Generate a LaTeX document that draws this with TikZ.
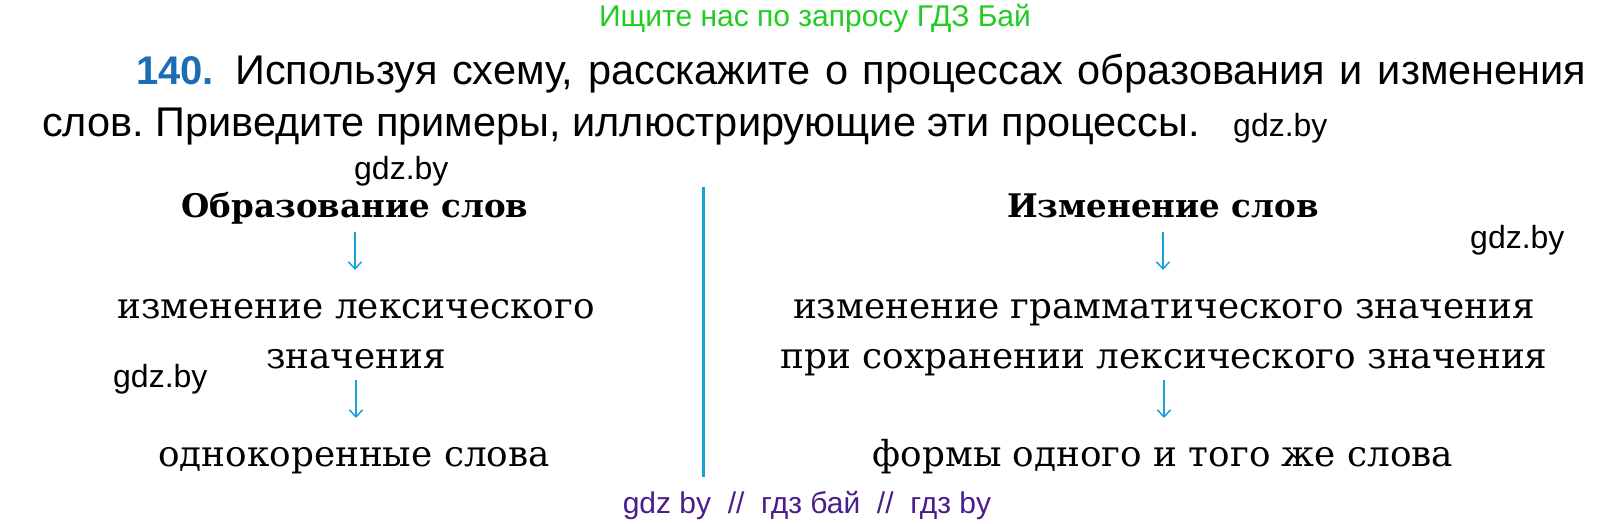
\documentclass[tikz,border=0pt]{standalone}
\usepackage{fontspec}
\setmainfont{DejaVu Serif}
\newfontfamily\bodysans{Liberation Sans}
\usetikzlibrary{arrows.meta}
\definecolor{schemeblue}{HTML}{1BA0DA}
\definecolor{numblue}{HTML}{1C6DB3}
\definecolor{adgreen}{HTML}{22CC22}
\definecolor{adpurple}{HTML}{4A1D8A}
\tikzset{every node/.style={inner sep=0pt, anchor=base},
  task/.style={font=\bodysans\fontsize{41.5}{41.5}\selectfont},
  wmark/.style={font=\bodysans\fontsize{32}{32}\selectfont},
  head/.style={font=\bfseries\fontsize{32.5}{32.5}\selectfont},
  term/.style={font=\fontsize{35.8}{35.8}\selectfont},
  schemearrow/.style={schemeblue, line width=1.5pt, -{Straight Barb[length=7pt,width=13pt]}}}

\begin{document}
\frenchspacing
\begin{tikzpicture}[x=1pt,y=-1pt]
   \useasboundingbox (0,0) rectangle (1615,524);
   % header and task text
   \node[wmark, adgreen, font=\bodysans\fontsize{30}{30}\selectfont] (ad) at (815,27) {Ищите нас по запросу ГДЗ Бай};
   \node[task, numblue, anchor=base west, font=\bodysans\bfseries\fontsize{40}{40}\selectfont] (num) at (136,85) {140.};
   \node[task, anchor=base west] (line1) at (235,85) {\makebox[1351pt][s]{Используя схему, расскажите о процессах образования и изменения}};
   \node[task, anchor=base west] (line2) at (42,137) {слов. Приведите примеры, иллюстрирующие эти процессы.};
   \node[wmark, anchor=base west] (wm1) at (1233,137) {gdz.by};
   \node[wmark, anchor=base west] (wm2) at (354,179) {gdz.by};
   % left column
   \node[head] (formL) at (355,218) {Образование слов};
   \node[term] (lexL1) at (356,318) {изменение лексического};
   \node[term] (lexL2) at (356,368) {значения};
   \node[term] (rootL) at (354,466) {однокоренные слова};
   \node[wmark, anchor=base west] (wm3) at (113,387) {gdz.by};
   % right column
   \node[head] (formR) at (1163,218) {Изменение слов};
   \node[term] (gramR1) at (1164,318) {изменение грамматического значения};
   \node[term] (gramR2) at (1164,368) {при сохранении лексического значения};
   \node[term] (wordR) at (1163,466) {формы одного и того же слова};
   \node[wmark, anchor=base west] (wm4) at (1470,248) {gdz.by};
   % divider
   \coordinate (divtop) at (703,187);
   \coordinate (divbot) at (703,477);
   \draw[schemeblue, line width=3pt] (divtop) -- (divbot);
   % arrows
   \draw[schemearrow, shorten <=14pt, shorten >=48pt] (formL.base) -- (formL.base |- lexL1.base);
   \draw[schemearrow, shorten <=12pt, shorten >=48pt] (lexL2.base) -- (lexL2.base |- rootL.base);
   \draw[schemearrow, shorten <=14pt, shorten >=48pt] (formR.base) -- (formR.base |- gramR1.base);
   \draw[schemearrow, shorten <=12pt, shorten >=48pt] (gramR2.base) -- (gramR2.base |- wordR.base);
   % footer
   \node[wmark, adpurple, font=\bodysans\fontsize{30}{30}\selectfont] (foot) at (807,513) {gdz by~~//~~гдз бай~~//~~гдз by};
\end{tikzpicture}
\end{document}
